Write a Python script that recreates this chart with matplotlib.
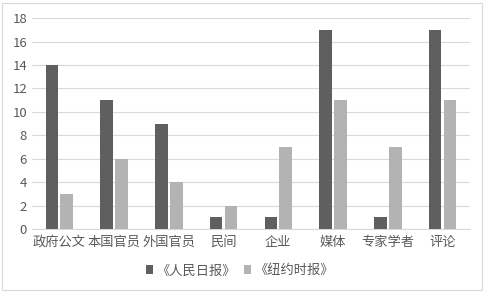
import numpy as np
import matplotlib
matplotlib.use('Agg')
import matplotlib.pyplot as plt
from matplotlib.patches import Rectangle

plt.rcParams['font.family'] = ['Noto Sans CJK SC', 'DejaVu Sans']

# data
CATEGORIES = ['政府公文', '本国官员', '外国官员', '民间', '企业', '媒体', '专家学者', '评论']
RENMIN = [14, 11, 9, 1, 1, 17, 1, 17]
NYT = [3, 6, 4, 2, 7, 11, 7, 11]
SERIES_NAMES = ['《人民日报》', '《纽约时报》']
Y_TICKS = [0, 2, 4, 6, 8, 10, 12, 14, 16, 18]

DARK = '#5f5f5f'
LIGHT = '#b3b3b3'
TEXT = '#595959'


def plot_chart():
    fig = plt.figure(figsize=(4.84, 2.96), dpi=100)
    ax = fig.add_axes([0.066, 0.226, 0.905, 0.713])

    x = np.arange(len(CATEGORIES))
    w = 0.23
    gap = 0.04
    ax.bar(x - (w + gap) / 2, RENMIN, w, color=DARK, label=SERIES_NAMES[0], zorder=3)
    ax.bar(x + (w + gap) / 2, NYT, w, color=LIGHT, label=SERIES_NAMES[1], zorder=3)

    ax.set_xlim(-0.5, len(CATEGORIES) - 0.5)
    ax.set_ylim(0, 18)
    ax.set_yticks(Y_TICKS)
    ax.set_xticks(x)
    ax.set_xticklabels(CATEGORIES, fontsize=9.5)
    ax.tick_params(axis='both', length=0, labelsize=9.5, colors=TEXT)
    ax.tick_params(axis='x', pad=5)
    ax.grid(True, axis='y', color='#d9d9d9', linewidth=0.8, zorder=0)
    for side in ['top', 'right', 'left']:
        ax.spines[side].set_visible(False)
    ax.spines['bottom'].set_color('#d9d9d9')

    fig.legend(loc='center', bbox_to_anchor=(0.495, 0.085), ncol=2, frameon=False,
               fontsize=9.5, handlelength=0.6, handleheight=0.6, handletextpad=0.2,
               columnspacing=0.6, labelcolor=TEXT)

    # outer chart border
    fig.patches.append(Rectangle((0.005, 0.02), 0.99, 0.97, transform=fig.transFigure,
                                 fill=False, edgecolor='#d9d9d9', linewidth=0.8))

    fig.savefig('out.png', dpi=100)


if __name__ == '__main__':
    plot_chart()
